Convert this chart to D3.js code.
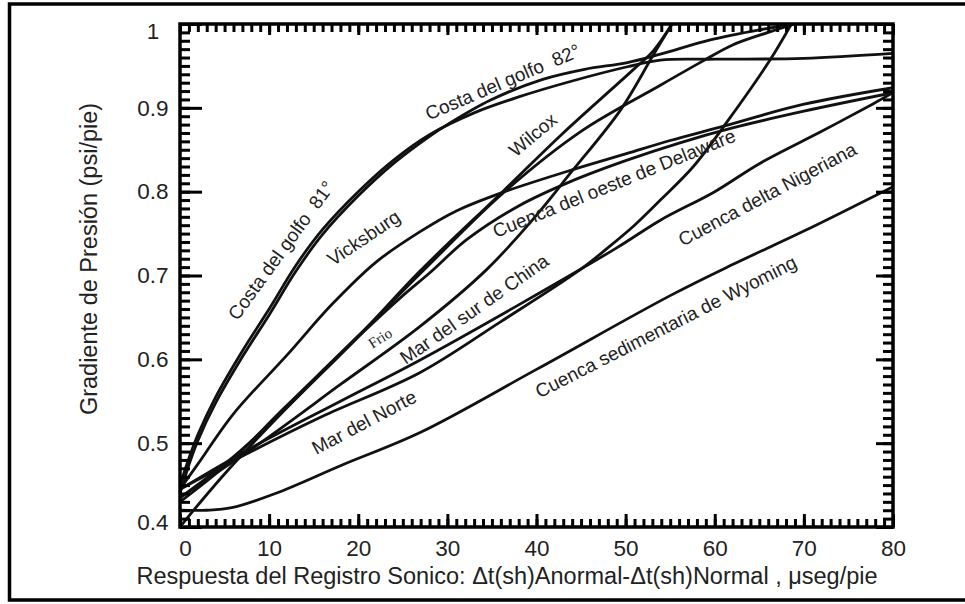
<!DOCTYPE html>
<html>
<head>
<meta charset="utf-8">
<script src="https://cdn.jsdelivr.net/npm/d3@7"></script>
<style>
  body { margin: 0; background: #fff; }
  svg { display: block; }
  text { font-family: "Liberation Sans", Arial, sans-serif; fill: #222; }
</style>
</head>
<body>
<div id="chart"></div>
<script>
// curves: [delta t anomaly, pressure gradient]
var costa81 = [[0,0.45],[1,0.482],[2,0.51],[4,0.555],[7,0.61],[10,0.66],[13,0.712],[16,0.755],[20,0.80],[24,0.838],[28,0.868],[33,0.894],[38,0.913],[44,0.932],[50.2,0.949],[53.9,0.957],[60,0.958],[70,0.959],[80,0.965]];
var costa82 = [[0,0.44],[1,0.474],[2,0.503],[4,0.548],[7,0.603],[10,0.653],[13,0.705],[16,0.749],[20,0.795],[24,0.834],[28,0.866],[30,0.88],[34.8,0.909],[40.7,0.934],[45.4,0.946],[50.2,0.954],[53.9,0.964],[59.5,0.981],[65,0.993],[69,1.0]];
var vicksburg = [[0,0.445],[2,0.475],[6,0.535],[12,0.605],[17,0.665],[22,0.716],[26.9,0.752],[31,0.777],[35.9,0.798],[44,0.826],[50,0.845],[55,0.861],[60.6,0.877],[69.9,0.904],[80,0.924]];
var wilcox = [[0,0.40],[2,0.426],[5.4,0.468],[11.8,0.54],[20,0.627],[26.9,0.705],[36.2,0.80],[43,0.87],[50.8,0.945],[53.1,0.968],[55.2,1.0]];
var frio = [[0,0.43],[5.4,0.476],[11.8,0.543],[20,0.628],[27.5,0.708],[36.2,0.798],[45,0.872],[53.9,0.927],[58.7,0.956],[62,0.975],[66,0.99],[69,1.0]];
var delaware = [[0,0.435],[5,0.475],[10,0.522],[15,0.575],[20,0.627],[25,0.676],[28,0.703],[32.2,0.743],[38,0.783],[43.8,0.812],[50,0.837],[56,0.858],[62,0.876],[70,0.896],[80,0.918]];
var china = [[0,0.435],[9.9,0.507],[18,0.57],[26.9,0.639],[34.4,0.707],[40,0.772],[43.8,0.822],[49.4,0.897],[53.1,0.963],[55.2,1.0]];
var nigeriana = [[0,0.445],[8.1,0.495],[18,0.55],[26.9,0.599],[38,0.665],[49,0.733],[53.9,0.766],[60,0.80],[65.1,0.834],[72,0.872],[77.8,0.905],[80,0.918]];
var norte = [[0,0.445],[8,0.49],[16,0.532],[26.9,0.584],[36,0.645],[44.9,0.707],[48,0.733],[51,0.76],[53.9,0.79],[57.6,0.83],[61.7,0.888],[66.2,0.957],[68.6,1.0]];
var wyoming = [[0,0.42],[3,0.42],[5.8,0.423],[10.7,0.44],[18.2,0.474],[27,0.513],[40,0.588],[55,0.676],[62,0.713],[70,0.753],[80,0.806]];

var curves = [costa81, costa82, vicksburg, wilcox, frio, delaware, china, nigeriana, norte, wyoming];

// curve labels: text, x value, y value, angle
var labels = [
  ["Costa del golfo \u00a081\u00b0", 11.33, 0.730, -54],
  ["Costa del golfo \u00a082\u00b0", 36.2, 0.931, -23],
  ["Vicksburg", 20.6, 0.745, -34],
  ["Wilcox", 39.6, 0.868, -40],
  ["Cuenca del oeste de Delaware", 48.7, 0.810, -22],
  ["Mar del sur de China", 33.0, 0.660, -35],
  ["Cuenca delta Nigeriana", 65.9, 0.797, -28],
  ["Mar del Norte", 20.65, 0.525, -28],
  ["Cuenca sedimentaria de Wyoming", 54.5, 0.639, -27]
];
var frioLabel = ["Frio", 22.44, 0.6255, -32];

var xTicks = [0, 10, 20, 30, 40, 50, 60, 70, 80];
var yTicks = [0.4, 0.5, 0.6, 0.7, 0.8, 0.9, 1];

function drawChart() {
  var width = 965, height = 604;
  var pl = 180, pt = 24, pr = 893, pb = 527;

  var svg = d3.select("#chart").append("svg")
    .attr("width", width)
    .attr("height", height);

  // outer frame
  svg.append("path")
    .attr("d", "M980,4 L9.5,4 L9.5,600 L980,600")
    .attr("fill", "none")
    .attr("stroke", "#000")
    .attr("stroke-width", 3.5);

  var x = d3.scaleLinear().domain([0, 80]).range([pl, pr]);
  var y = d3.scaleLinear().domain([0.4, 1]).range([pb, pt]);

  svg.append("clipPath").attr("id", "plot")
    .append("rect")
    .attr("x", pl).attr("y", pt)
    .attr("width", pr - pl).attr("height", pb - pt);

  // curves
  var line = d3.line()
    .x(function (d) { return x(d[0]); })
    .y(function (d) { return y(d[1]); })
    .curve(d3.curveCatmullRom.alpha(0.5));

  svg.append("g")
    .attr("clip-path", "url(#plot)")
    .selectAll("path")
    .data(curves)
    .enter()
    .append("path")
    .attr("d", line)
    .attr("fill", "none")
    .attr("stroke", "#111")
    .attr("stroke-width", 2.8);

  // ticks on all four sides, pointing inward
  function ticks(g) {
    g.select(".domain").remove();
    g.selectAll("line").attr("stroke", "#000").attr("stroke-width", 3);
  }

  svg.append("g")
    .attr("transform", "translate(0," + pb + ")")
    .call(d3.axisBottom(x).ticks(80).tickSize(-8).tickFormat(""))
    .call(ticks);
  var xAxis = svg.append("g")
    .attr("transform", "translate(0," + pb + ")")
    .call(d3.axisBottom(x).tickValues(xTicks).tickSize(-13).tickPadding(13))
    .call(ticks);
  xAxis.selectAll("text")
    .style("font-size", "22.5px")
    .attr("x", function (d) { return d === 0 ? 5 : 0; });

  svg.append("g")
    .attr("transform", "translate(0," + pt + ")")
    .call(d3.axisTop(x).ticks(80).tickSize(-8).tickFormat(""))
    .call(ticks);
  svg.append("g")
    .attr("transform", "translate(0," + pt + ")")
    .call(d3.axisTop(x).tickValues(xTicks).tickSize(-11).tickFormat(""))
    .call(ticks);

  svg.append("g")
    .attr("transform", "translate(" + pl + ",0)")
    .call(d3.axisLeft(y).ticks(60).tickSize(-10).tickFormat(""))
    .call(ticks);
  var yAxis = svg.append("g")
    .attr("transform", "translate(" + pl + ",0)")
    .call(d3.axisLeft(y).tickValues(yTicks).tickSize(-22).tickFormat(d3.format("")))
    .call(ticks);
  yAxis.selectAll("text")
    .style("font-size", "22.5px")
    .attr("text-anchor", "middle")
    .attr("x", -27)
    .attr("y", function (d) { return d === 1 ? 7 : (d === 0.4 ? -5 : 0); });

  svg.append("g")
    .attr("transform", "translate(" + pr + ",0)")
    .call(d3.axisRight(y).ticks(60).tickSize(-10).tickFormat(""))
    .call(ticks);
  svg.append("g")
    .attr("transform", "translate(" + pr + ",0)")
    .call(d3.axisRight(y).tickValues(yTicks).tickSize(-17).tickFormat(""))
    .call(ticks);

  // plot frame
  svg.append("rect")
    .attr("x", pl).attr("y", pt)
    .attr("width", pr - pl).attr("height", pb - pt)
    .attr("fill", "none")
    .attr("stroke", "#000")
    .attr("stroke-width", 3.5);

  // curve labels
  svg.selectAll(".lbl")
    .data(labels)
    .enter()
    .append("text")
    .attr("class", "lbl")
    .attr("transform", function (d) {
      return "translate(" + x(d[1]) + "," + y(d[2]) + ") rotate(" + d[3] + ")";
    })
    .attr("text-anchor", "middle")
    .attr("dy", "0.35em")
    .style("font-size", "19px")
    .style("white-space", "pre")
    .text(function (d) { return d[0]; });

  svg.append("text")
    .attr("transform", "translate(" + x(frioLabel[1]) + "," + y(frioLabel[2]) + ") rotate(" + frioLabel[3] + ")")
    .attr("text-anchor", "middle")
    .attr("dy", "0.35em")
    .style("font-family", "'Liberation Serif', serif")
    .style("font-size", "15px")
    .text(frioLabel[0]);

  // axis titles
  svg.append("text")
    .attr("x", 507)
    .attr("y", 584)
    .attr("text-anchor", "middle")
    .style("font-size", "23.5px")
    .text("Respuesta del Registro Sonico: \u0394t(sh)Anormal-\u0394t(sh)Normal , \u03bcseg/pie");

  svg.append("text")
    .attr("transform", "translate(97,259) rotate(-90)")
    .attr("text-anchor", "middle")
    .style("font-size", "23.5px")
    .text("Gradiente de Presi\u00f3n (psi/pie)");
}
drawChart();
</script>
</body>
</html>
